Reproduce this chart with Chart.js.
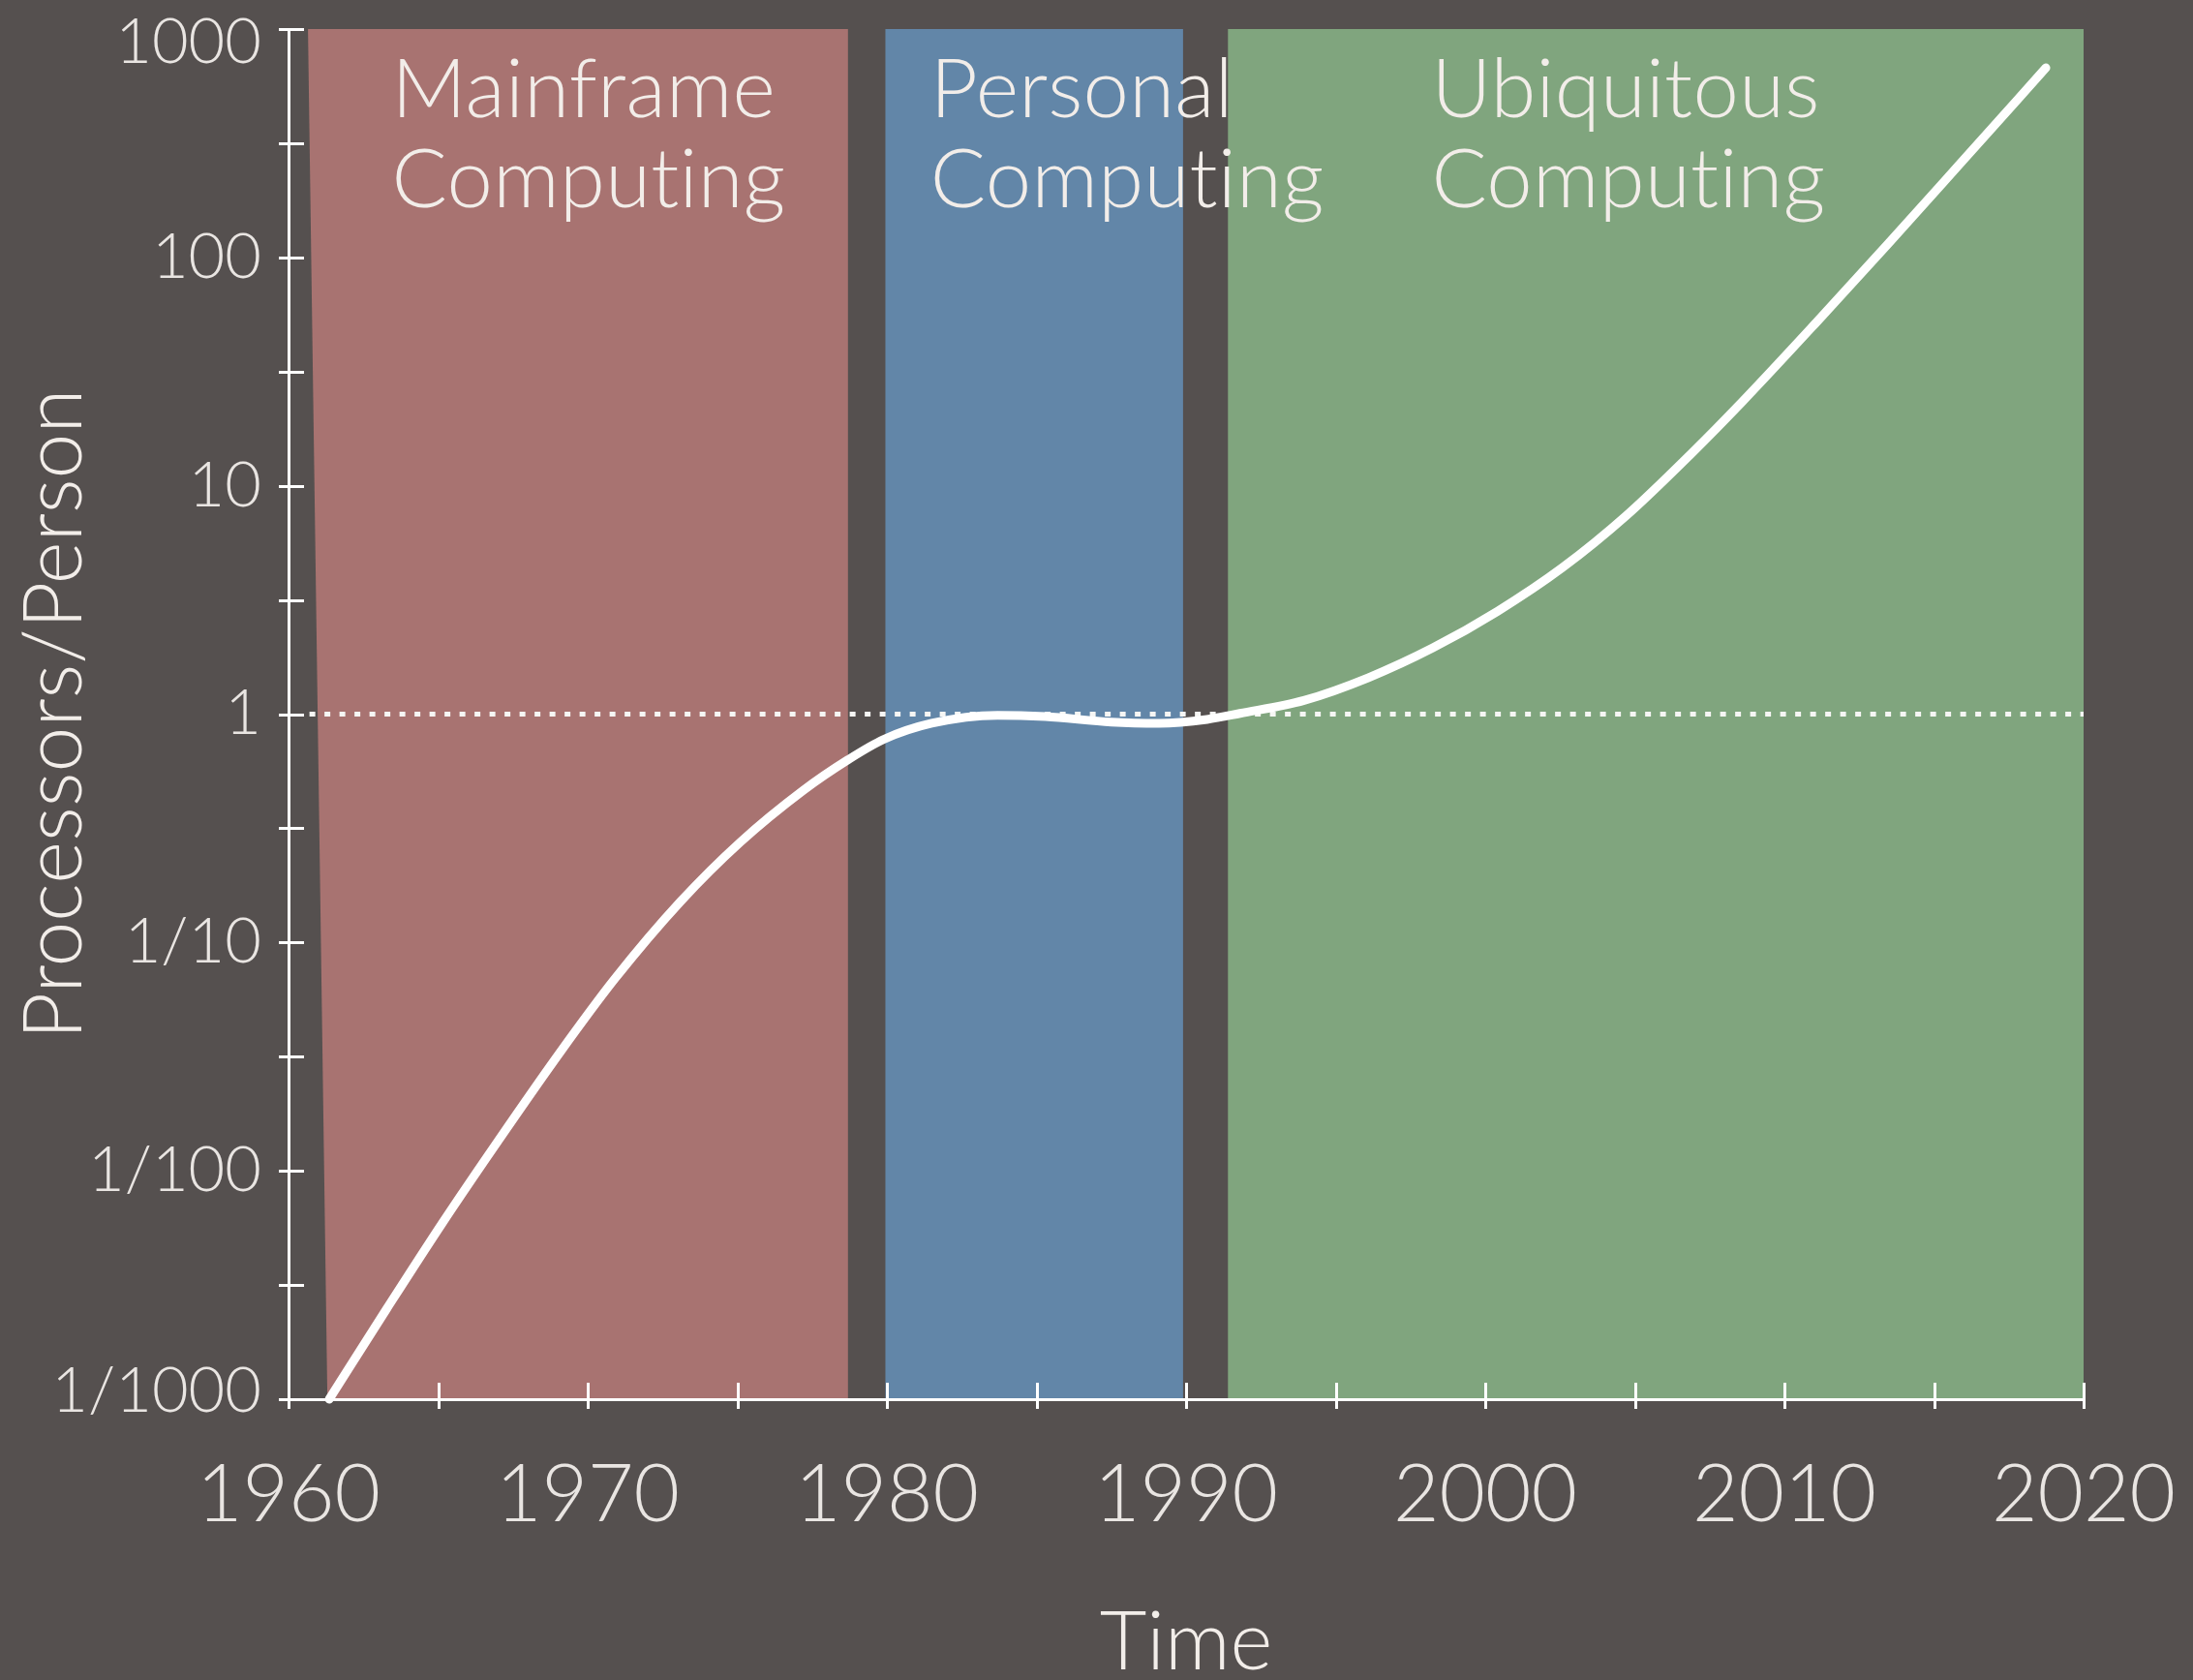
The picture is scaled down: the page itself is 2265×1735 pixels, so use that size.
<!DOCTYPE html>
<html>
<head>
<meta charset="utf-8">
<style>
html,body{margin:0;padding:0;background:#55504f;overflow:hidden;}
#wrap{width:2265px;height:1735px;position:relative;}
</style>
<script src="https://cdn.jsdelivr.net/npm/chart.js@4/dist/chart.umd.min.js"></script>
</head>
<body>
<div id="wrap"><canvas id="c" width="2265" height="1735"></canvas></div>
<script>
// ---- data ----
const years = [1961.36, 1963.3, 1965.16, 1967.0, 1969.08, 1970.9, 1973.1, 1975.1, 1977.2, 1978.7, 1979.9, 1981.5, 1983.7, 1985.3, 1987.5, 1989.1, 1990.7, 1991.8, 1993.94, 1996.1, 1998.25, 2000.41, 2002.57, 2004.72, 2006.88, 2008.6, 2011.1, 2013.5, 2015.8, 2018.74];
const processorsPerPerson = [0.001, 0.00251, 0.00596, 0.0135, 0.0331, 0.0692, 0.151, 0.275, 0.463, 0.631, 0.776, 0.912, 0.989, 0.975, 0.923, 0.912, 0.948, 1.007, 1.148, 1.445, 1.95, 2.82, 4.37, 7.41, 13.8, 23.4, 52.5, 116, 251, 676];
const referenceYears = [1960.7, 2020];
const referenceLevel = [1, 1];

const eraNames = [['Mainframe', 'Computing'], ['Personal', 'Computing'], ['Ubiquitous', 'Computing']];
const eraStartTop = [1960.65, 1979.95, 1991.4];
const eraStartBottom = [1961.3, 1979.95, 1991.4];
const eraEnd = [1978.7, 1989.9, 2020];
const eraLabelYear = [1963.45, 1981.45, 1998.2];

const xTickValues = [1960, 1965, 1970, 1975, 1980, 1985, 1990, 1995, 2000, 2005, 2010, 2015, 2020];
const xTickLabels = ['1960', '', '1970', '', '1980', '', '1990', '', '2000', '', '2010', '', '2020'];
const yTickValues = [0.001, 0.003162, 0.01, 0.03162, 0.1, 0.3162, 1, 3.162, 10, 31.62, 100, 316.2, 1000];
const yTickLabels = ['1/1000', '', '1/100', '', '1/10', '', '1', '', '10', '', '100', '', '1000'];

// ---- styles ----
const BG = '#55504f';
const eraColors = ['#a87371', '#6286a8', '#80a57e'];
const TEXT = '#f2ede9';
const TICKTEXT = '#e9e5e2';
const FONT = 'Lato';

const eraPlugin = {
  id: 'eras',
  beforeDraw(chart) {
    const {ctx, scales: {x, y}} = chart;
    const top = y.getPixelForValue(1000);
    const bottom = y.getPixelForValue(0.001);
    ctx.save();
    eraNames.forEach((lines, i) => {
      ctx.fillStyle = eraColors[i];
      ctx.beginPath();
      ctx.moveTo(x.getPixelForValue(eraStartTop[i]), top);
      ctx.lineTo(x.getPixelForValue(eraEnd[i]), top);
      ctx.lineTo(x.getPixelForValue(eraEnd[i]), bottom);
      ctx.lineTo(x.getPixelForValue(eraStartBottom[i]), bottom);
      ctx.closePath();
      ctx.fill();
    });
    ctx.fillStyle = TEXT;
    ctx.font = '300 85px ' + FONT;
    if ('letterSpacing' in ctx) ctx.letterSpacing = '0.3px';
    ctx.textAlign = 'left';
    ctx.textBaseline = 'alphabetic';
    eraNames.forEach((lines, i) => {
      const lx = x.getPixelForValue(eraLabelYear[i]);
      lines.forEach((t, j) => ctx.fillText(t, lx, top + 91 + j * 93));
    });
    ctx.restore();
  },
  beforeDatasetsDraw(chart) {
    const {ctx, chartArea, scales: {x, y}} = chart;
    ctx.save();
    ctx.strokeStyle = '#ffffff';
    ctx.lineWidth = 3;
    ctx.beginPath();
    yTickValues.forEach(v => {
      const py = Math.round(y.getPixelForValue(v)) + 0.5;
      ctx.moveTo(chartArea.left - 10, py);
      ctx.lineTo(chartArea.left + 16, py);
    });
    xTickValues.forEach(v => {
      const px = Math.round(x.getPixelForValue(v)) + 0.5;
      ctx.moveTo(px, chartArea.bottom - 17);
      ctx.lineTo(px, chartArea.bottom + 10);
    });
    ctx.stroke();
    ctx.restore();
  }
};

new Chart(document.getElementById('c'), {
  type: 'line',
  data: {
    datasets: [
      {
        data: years.map((yr, i) => ({x: yr, y: processorsPerPerson[i]})),
        borderColor: '#ffffff',
        borderWidth: 9,
        borderCapStyle: 'round',
        borderJoinStyle: 'round',
        pointRadius: 0,
        cubicInterpolationMode: 'monotone',
        fill: false,
        clip: 10
      },
      {
        data: referenceYears.map((yr, i) => ({x: yr, y: referenceLevel[i]})),
        borderColor: '#f6f6f4',
        borderWidth: 5,
        borderDash: [6, 9.5],
        borderCapStyle: 'butt',
        pointRadius: 0,
        fill: false
      }
    ]
  },
  options: {
    responsive: false,
    animation: false,
    events: [],
    layout: {padding: {top: 30, right: 113, left: 0, bottom: 0}},
    plugins: {legend: {display: false}, tooltip: {enabled: false}},
    scales: {
      x: {
        type: 'linear',
        min: 1960,
        max: 2020,
        afterBuildTicks(scale) { scale.ticks = xTickValues.map(v => ({value: v})); },
        afterFit(scale) {
          scale.height = 290;
          scale.paddingLeft = 0; scale.paddingRight = 0;
        },
        grid: {display: false, drawTicks: false},
        border: {display: true, color: '#ffffff', width: 3},
        ticks: {
          autoSkip: false,
          maxRotation: 0,
          padding: 59,
          color: TICKTEXT,
          font: {family: FONT, size: 82, weight: '300', lineHeight: 1},
          callback: (v) => { const i = xTickValues.indexOf(v); return i >= 0 ? xTickLabels[i] : ''; }
        },
        title: {
          display: true,
          text: 'Time',
          color: TEXT,
          font: {family: FONT, size: 84, weight: '300', lineHeight: 1},
          padding: {top: 0, bottom: -4}
        }
      },
      y: {
        type: 'logarithmic',
        min: 0.001,
        max: 1000,
        afterBuildTicks(scale) { scale.ticks = yTickValues.map(v => ({value: v})); },
        afterFit(scale) {
          scale.width = 298;
          scale.paddingTop = 0; scale.paddingBottom = 0;
        },
        grid: {display: false, drawTicks: false},
        border: {display: true, color: '#ffffff', width: 3},
        ticks: {
          autoSkip: false,
          padding: 28,
          color: TICKTEXT,
          font: (ctx) => {
            const v = ctx.tick ? ctx.tick.value : null;
            let lh = 1;
            if (v === 1000) lh = 0.42;
            if (v === 0.001) lh = 0.24;
            return {family: FONT, size: 65, weight: '300', lineHeight: lh};
          },
          callback: (v) => {
            const i = yTickValues.indexOf(v);
            if (i < 0) return '';
            const lab = yTickLabels[i];
            if (v === 1000) return ['', lab];
            if (v === 0.001) return [lab, ''];
            return lab;
          }
        },
        title: {
          display: true,
          text: 'Processors/Person',
          color: TEXT,
          font: {family: FONT, size: 84, weight: '300', lineHeight: 1},
          padding: {top: 15, bottom: 0}
        }
      }
    }
  },
  plugins: [eraPlugin]
});
</script>
</body>
</html>
